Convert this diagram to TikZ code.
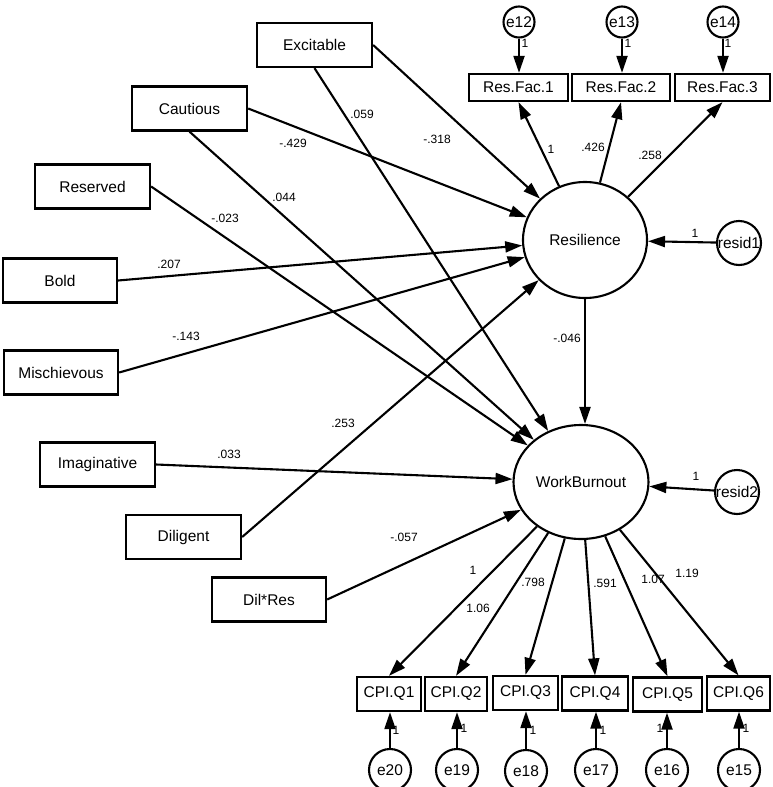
\documentclass[tikz,border=0pt]{standalone}
\usepackage{fontspec}
\setmainfont{Liberation Sans}
\usetikzlibrary{shapes.geometric,arrows.meta}
\newcommand\semnodefont{\fontsize{15.5}{18}\selectfont}
\newcommand\semcoeffont{\fontsize{12}{14}\selectfont}
\begin{document}
\begin{tikzpicture}[x=1pt,y=-1pt,
  obs/.style={draw, line width=2.3pt, minimum width=115pt, minimum height=44pt, inner sep=0pt, font=\semnodefont},
  fac/.style={draw, line width=2.3pt, minimum height=27pt, inner sep=0pt, font=\semnodefont},
  cpi/.style={draw, line width=2.3pt, minimum height=34pt, inner sep=0pt, font=\semnodefont},
  lat/.style={draw, ellipse, line width=2.1pt, inner sep=0pt, font=\semnodefont},
  err/.style={draw, circle, line width=2.1pt, inner sep=0pt, font=\semnodefont},
  sempath/.style={line width=2.1pt, -{Triangle[length=17pt,width=11pt]}},
  coef/.style={font=\semcoeffont, inner sep=0pt}]
\useasboundingbox (0,0) rectangle (772,787);

% exogenous observed variables
\node[obs] (exc) at (314.5,45) {Excitable};
\node[obs] (cau) at (189.5,108.5) {Cautious};
\node[obs] (resv) at (92.5,186.5) {Reserved};
\node[obs,minimum width=114pt] (bold) at (60,280.5) {Bold};
\node[obs,minimum width=114pt] (mis) at (61,372.5) {Mischievous};
\node[obs] (ima) at (97.5,464.5) {Imaginative};
\node[obs] (dil) at (183.5,537) {Diligent};
\node[obs,minimum width=114pt] (dr) at (269,599.5) {Dil*Res};

% latent variables
\node[lat, minimum width=124pt, minimum height=116pt] (res) at (585,240) {\makebox[0pt]{Resilience}};
\node[lat, minimum width=135pt, minimum height=114pt] (wb) at (581,482) {\makebox[0pt]{WorkBurnout}};

% resilience indicators
\node[fac, minimum width=99pt] (rf1) at (518.5,87.5) {Res.Fac.1};
\node[fac, minimum width=98pt] (rf2) at (621,87.5) {Res.Fac.2};
\node[fac, minimum width=95pt] (rf3) at (722.5,87.5) {Res.Fac.3};
\node[err, minimum size=31pt] (e12) at (519,22) {\makebox[0pt]{e12}};
\node[err, minimum size=31pt] (e13) at (622,22) {\makebox[0pt]{e13}};
\node[err, minimum size=31pt] (e14) at (723,22) {\makebox[0pt]{e14}};

% residuals
\node[err, minimum size=44pt] (r1) at (739,243) {\makebox[0pt]{resid1}};
\node[err, minimum size=44pt] (r2) at (737,492) {\makebox[0pt]{resid2}};

% burnout indicators
\node[cpi, minimum width=64pt] (q1) at (389,694) {CPI.Q1};
\node[cpi, minimum width=62pt] (q2) at (456,694) {CPI.Q2};
\node[cpi, minimum width=65pt] (q3) at (525.5,693) {CPI.Q3};
\node[cpi, minimum width=66pt] (q4) at (595,693.5) {CPI.Q4};
\node[cpi, minimum width=69pt] (q5) at (667.5,694.5) {CPI.Q5};
\node[cpi, minimum width=63pt] (q6) at (738.5,693.5) {CPI.Q6};
\node[err, minimum size=42pt] (e20) at (390,770) {\makebox[0pt]{e20}};
\node[err, minimum size=42pt] (e19) at (457,770) {\makebox[0pt]{e19}};
\node[err, minimum size=42pt] (e18) at (526,771) {\makebox[0pt]{e18}};
\node[err, minimum size=42pt] (e17) at (596,770) {\makebox[0pt]{e17}};
\node[err, minimum size=42pt] (e16) at (667,770) {\makebox[0pt]{e16}};
\node[err, minimum size=42pt] (e15) at (739,770) {\makebox[0pt]{e15}};

% structural paths
\draw[sempath] (exc.east) -- (res);
\draw[sempath] (exc.south) -- (wb);
\draw[sempath] (cau.east) -- (res);
\draw[sempath] (cau.south) -- (wb);
\draw[sempath] (resv.east) -- (wb);
\draw[sempath] (bold.east) -- (res);
\draw[sempath] (mis.east) -- (res);
\draw[sempath] (ima.east) -- (wb);
\draw[sempath] (dil.east) -- (res);
\draw[sempath] (dr.east) -- (wb);
\draw[sempath] (res.south) -- (res.south |- wb.north);
\draw[sempath] (r1) -- (res);
\draw[sempath] (r2) -- (wb);

% measurement paths
\draw[sempath] (res) -- (rf1.south);
\draw[sempath] (res) -- (rf2.south);
\draw[sempath] (res) -- (rf3.south);
\draw[sempath] (e12) -- (e12 |- rf1.north);
\draw[sempath] (e13) -- (e13 |- rf2.north);
\draw[sempath] (e14) -- (e14 |- rf3.north);
\draw[sempath] (wb) -- (q1.north);
\draw[sempath] (wb) -- (q2.north);
\draw[sempath] (wb) -- (q3.north);
\draw[sempath] (wb) -- (q4.north);
\draw[sempath] (wb) -- (q5.north);
\draw[sempath] (wb) -- (q6.north);
\draw[sempath] (e20) -- (e20 |- q1.south);
\draw[sempath] (e19) -- (e19 |- q2.south);
\draw[sempath] (e18) -- (e18 |- q3.south);
\draw[sempath] (e17) -- (e17 |- q4.south);
\draw[sempath] (e16) -- (e16 |- q5.south);
\draw[sempath] (e15) -- (e15 |- q6.south);

% coefficients
\node[coef] (c1) at (362,114) {.059};
\node[coef] (c2) at (293,143) {-.429};
\node[coef] (c3) at (437,139) {-.318};
\node[coef] (c4) at (284,197) {.044};
\node[coef] (c5) at (225,218) {-.023};
\node[coef] (c6) at (169,264) {.207};
\node[coef] (c7) at (186,336) {-.143};
\node[coef] (c8) at (343,423) {.253};
\node[coef] (c9) at (229,454) {.033};
\node[coef] (c10) at (404,537) {-.057};
\node[coef] (c11) at (551,149) {1};
\node[coef] (c12) at (593,147) {.426};
\node[coef] (c13) at (650,155) {.258};
\node[coef] (c14) at (695,233) {1};
\node[coef] (c15) at (567,338) {-.046};
\node[coef] (c16) at (696,476) {1};
\node[coef] (c17) at (473,570) {1};
\node[coef] (c18) at (478,608) {1.06};
\node[coef] (c19) at (533,582) {.798};
\node[coef] (c20) at (605,583) {.591};
\node[coef] (c21) at (653,579) {1.07};
\node[coef] (c22) at (687,573) {1.19};
\node[coef] (c23) at (525,43) {1};
\node[coef] (c24) at (628,43) {1};
\node[coef] (c25) at (728,43) {1};
\node[coef] (c26) at (396,730) {1};
\node[coef] (c27) at (464,728) {1};
\node[coef] (c28) at (533,730) {1};
\node[coef] (c29) at (603,730) {1};
\node[coef] (c30) at (660,728) {1};
\node[coef] (c31) at (746,728) {1};
\end{tikzpicture}
\end{document}
